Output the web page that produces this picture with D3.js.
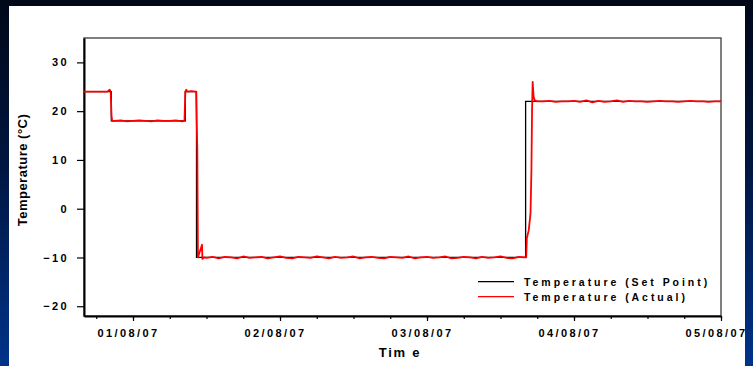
<!DOCTYPE html>
<html>
<head>
<meta charset="utf-8">
<script src="https://cdn.jsdelivr.net/npm/d3@7"></script>
<style>
  html, body { margin: 0; padding: 0; background: #000818; }
  svg { display: block; font-family: Arial, "Liberation Sans", sans-serif; }
</style>
</head>
<body>
<script>
// hours relative to 01/08/07 00:00
let setHours = [-8, -3.54, 8.54, 10.37, 64.1, 96];
let setTemps = [24, 18, 24, -10, 22, 22];

let actualHours = [
  -8, -6, -4.2, -3.8, -3.65, -3.5, -3.4,
  -3, -2, -1, 0, 1, 2, 3, 4, 5, 6, 7, 8, 8.4,
  8.55, 8.7, 8.85, 9.5, 10.3,
  10.5, 10.6, 11.27, 11.33, 11.6,
  12, 13, 14, 15, 16, 17, 18, 19, 20, 21,
  22, 23, 24, 25, 26, 27, 28, 29, 30, 31,
  32, 33, 34, 35, 36, 37, 38, 39, 40, 41,
  42, 43, 44, 45, 46, 47, 48, 49, 50, 51,
  52, 53, 54, 55, 56, 57, 58, 59, 60, 61,
  62, 63, 64,
  64.2, 64.3, 64.6, 64.9, 65.05, 65.15, 65.25, 65.4, 65.6, 66,
  67, 68, 69, 70, 71, 72, 73, 74, 75, 76,
  77, 78, 79, 80, 81, 82, 83, 84, 85, 86,
  87, 88, 89, 90, 91, 92, 93, 94, 95, 96
];
let actualTemps = [
  24, 24, 24, 24.4, 24, 19, 18,
  18.0, 18.1, 17.9, 18.0, 18.1, 18.0, 17.9, 18.1, 18.0, 18.0, 18.1, 17.9, 18.0,
  24.0, 24.4, 24.0, 24.1, 24.0,
  12, -10.0, -7.4, -10.3, -10.0,
  -10.1, -9.9, -10.2, -9.9, -10.0, -10.2, -9.8, -10.1, -10.0, -9.9,
  -10.2, -10.0, -9.8, -10.1, -10.2, -9.9, -10.0, -10.1, -9.8, -10.0,
  -10.2, -9.9, -10.1, -10.0, -9.8, -10.2, -10.0, -9.9, -10.1, -10.2,
  -9.9, -10.0, -10.1, -9.8, -10.2, -10.0, -9.9, -10.1, -10.0, -9.8,
  -10.2, -10.1, -9.9, -10.0, -10.2, -9.9, -10.1, -10.0, -9.8, -10.1,
  -10.2, -9.9, -10.0,
  -10.0, -6.0, -4.5, -1, 8, 20, 26, 23, 22.2, 22.0,
  22.0, 22.1, 21.9, 22.0, 22.0, 22.1, 21.9, 22.2, 21.8, 22.1,
  21.9, 22.0, 22.2, 21.9, 22.1, 22.0, 22.0, 21.9, 22.0, 22.1,
  22.0, 22.0, 21.9, 22.0, 22.1, 22.0, 22.0, 21.9, 22.0, 22.0
];

let yTicks = [-20, -10, 0, 10, 20, 30];
let dayTicks = ["2007-08-01", "2007-08-02", "2007-08-03", "2007-08-04", "2007-08-05"];
let legendLabels = ["Temperature (Set Point)", "Temperature (Actual)"];
let seriesColors = ["#000000", "#ff0000"];

let base = new Date(2007, 7, 1, 0, 0);
function toDate(h) {
  return new Date(+base + h * 36e5);
}

let width = 753, height = 366;
let plot = {left: 84, right: 721, top: 38, bottom: 316};

let svg = d3.select("body").append("svg")
  .attr("width", width)
  .attr("height", height);

let defs = svg.append("defs");
let grad = defs.append("linearGradient")
  .attr("id", "bg")
  .attr("x1", 0).attr("y1", 0).attr("x2", 0).attr("y2", 1);
grad.append("stop").attr("offset", "0%").attr("stop-color", "#000818");
grad.append("stop").attr("offset", "45%").attr("stop-color", "#001640");
grad.append("stop").attr("offset", "100%").attr("stop-color", "#00338a");

defs.append("clipPath").attr("id", "plotclip")
  .append("rect")
  .attr("x", plot.left).attr("y", plot.top)
  .attr("width", plot.right - plot.left)
  .attr("height", plot.bottom - plot.top);

svg.append("rect")
  .attr("width", width).attr("height", height)
  .attr("fill", "url(#bg)");

svg.append("rect")
  .attr("x", 9).attr("y", 6)
  .attr("width", 736).attr("height", 370)
  .attr("fill", "#ffffff");

let x = d3.scaleTime()
  .domain([toDate(-8), toDate(96)])
  .range([plot.left, plot.right]);

let y = d3.scaleLinear()
  .domain([-22, 35])
  .range([plot.bottom, plot.top]);

// frame top/right
svg.append("rect")
  .attr("x", plot.left).attr("y", plot.top)
  .attr("width", plot.right - plot.left)
  .attr("height", plot.bottom - plot.top)
  .attr("fill", "none")
  .attr("stroke", "#555")
  .attr("stroke-width", 1.5);

// minor x ticks every 6 hours
let minorTicks = d3.timeHour.every(6).range(toDate(-8), toDate(96.1));
svg.append("g")
  .attr("transform", "translate(0," + plot.bottom + ")")
  .call(d3.axisBottom(x).tickValues(minorTicks).tickSize(3).tickFormat(""))
  .call(function (g) { g.select(".domain").remove(); })
  .selectAll("line").attr("stroke", "#000").attr("stroke-width", 1.2);

let xAxis = svg.append("g")
  .attr("transform", "translate(0," + plot.bottom + ")")
  .call(d3.axisBottom(x)
    .tickValues(dayTicks.map(function (d) { return new Date(d + "T00:00"); }))
    .tickSize(5)
    .tickSizeOuter(0)
    .tickPadding(8)
    .tickFormat(d3.timeFormat("%d/%m/%y")));
xAxis.select(".domain").attr("stroke", "#000").attr("stroke-width", 2);
xAxis.selectAll("line").attr("stroke", "#000").attr("stroke-width", 1.2);
xAxis.selectAll("text")
  .attr("fill", "#000")
  .attr("dx", "-5")
  .attr("font-size", "11px")
  .attr("font-weight", "bold")
  .attr("letter-spacing", "2.4px")
  .attr("font-family", "Arial, 'Liberation Sans', sans-serif");

let yAxis = svg.append("g")
  .attr("transform", "translate(" + plot.left + ",0)")
  .call(d3.axisLeft(y)
    .tickValues(yTicks)
    .tickSize(7)
    .tickSizeOuter(0)
    .tickPadding(8));
yAxis.select(".domain").attr("stroke", "#000").attr("stroke-width", 2);
yAxis.selectAll("line").attr("stroke", "#000").attr("stroke-width", 1.2);
yAxis.selectAll("text")
  .attr("fill", "#000")
  .attr("font-size", "11px")
  .attr("font-weight", "bold")
  .attr("letter-spacing", "2.4px")
  .attr("font-family", "Arial, 'Liberation Sans', sans-serif");

// lines
let setData = setHours.map(function (h, i) { return {t: toDate(h), v: setTemps[i]}; });
let actualData = actualHours.map(function (h, i) { return {t: toDate(h), v: actualTemps[i]}; });

let lines = svg.append("g").attr("clip-path", "url(#plotclip)");

lines.append("path")
  .datum(setData)
  .attr("fill", "none")
  .attr("stroke", seriesColors[0])
  .attr("stroke-width", 1.3)
  .attr("d", d3.line()
    .curve(d3.curveStepAfter)
    .x(function (d) { return x(d.t); })
    .y(function (d) { return y(d.v); }));

lines.append("path")
  .datum(actualData)
  .attr("fill", "none")
  .attr("stroke", seriesColors[1])
  .attr("stroke-width", 1.8)
  .attr("stroke-linejoin", "round")
  .attr("d", d3.line()
    .x(function (d) { return x(d.t); })
    .y(function (d) { return y(d.v); }));

// legend
let legend = svg.append("g");
legendLabels.forEach(function (label, i) {
  let ly = 281.7 + i * 15;
  legend.append("line")
    .attr("x1", 478).attr("x2", 514)
    .attr("y1", ly).attr("y2", ly)
    .attr("stroke", seriesColors[i])
    .attr("stroke-width", 1.2);
  legend.append("text")
    .attr("x", 524).attr("y", ly + 4)
    .attr("font-size", "10.5px")
    .attr("font-weight", "bold")
    .attr("letter-spacing", "2.95px")
    .text(label);
});

// axis titles
svg.append("text")
  .attr("x", 400).attr("y", 357)
  .attr("text-anchor", "middle")
  .attr("font-size", "13px")
  .attr("font-weight", "bold")
  .attr("letter-spacing", "1.8px")
  .text("Tim e");

svg.append("text")
  .attr("transform", "translate(27,170) rotate(-90)")
  .attr("text-anchor", "middle")
  .attr("font-size", "13px")
  .attr("font-weight", "bold")
  .attr("letter-spacing", "0.5px")
  .text("Temperature (°C)");

// right border over the last tick label
svg.append("rect")
  .attr("x", 745).attr("y", 0)
  .attr("width", 8).attr("height", height)
  .attr("fill", "url(#bg)");
</script>
</body>
</html>
